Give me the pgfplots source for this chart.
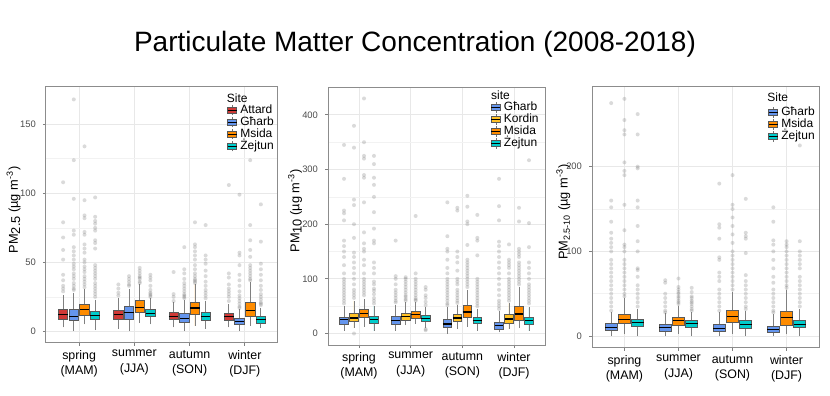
\documentclass[border=0pt]{standalone}
\usepackage{fontspec}
\setmainfont{Liberation Sans}
\usepackage{pgfplots}
\pgfplotsset{compat=1.18}
\usepgfplotslibrary{statistics}

\definecolor{cA}{HTML}{D03A36}
\definecolor{cG}{HTML}{6495ED}
\definecolor{cK}{HTML}{FFC125}
\definecolor{cM}{HTML}{FF8C00}
\definecolor{cZ}{HTML}{00CCCC}

% one ggplot-like box: colour, position, lower whisker, q1, median, q3, upper whisker, outliers
\newcommand{\bx}[8]{\addplot[gg,fill=#1,boxplot prepared={draw position=#2,lower whisker=#3,lower quartile=#4,median=#5,upper quartile=#6,upper whisker=#7}] coordinates {#8};}
\newcommand{\leg}[2]{\addlegendimage{legend image code/.code={
  \draw[black!55,line width=0.4pt] (2.25pt,-2.6pt)--(2.25pt,2.6pt);
  \draw[draw=black!65,fill=#1,line width=0.4pt] (0pt,-1.5pt) rectangle (4.5pt,1.5pt);
  \draw[black,line width=0.5pt] (0pt,0pt)--(4.5pt,0pt);}}\addlegendentry{#2}}

\tikzset{legtitle/.style={anchor=west,font=\fontsize{6}{6}\selectfont,inner sep=0pt},
 ylab/.style={at={(axis description cs:#1,0.52)},rotate=90,anchor=center,font=\fontsize{6.4}{7}\selectfont}}
\pgfplotsset{
 gg/.style={forget plot,draw=black!65,line width=0.4pt,
  mark=*,mark size=1pt,mark options={draw opacity=0,fill=black!60,fill opacity=0.24},
  boxplot={draw direction=y,whisker extend=0,
   every median/.style={draw=black,line width=0.6pt},
   every whisker/.style={draw=black!50,line width=0.45pt}}},
 ggax/.style={scale only axis,anchor=south west,xmin=0.4,xmax=4.6,
  xtick={1,2,3,4},
  xticklabels={spring\\(MAM),summer\\(JJA),autumn\\(SON),winter\\(DJF)},
  xticklabel style={align=center,font=\fontsize{6.2}{7.8}\selectfont,text=black,yshift=1.5pt},
  yticklabel style={font=\fontsize{4.7}{5}\selectfont,text=black!70},
  /pgf/number format/assume math mode=true,
  axis line style={black!45,line width=0.5pt},
  tick style={black!50,line width=0.4pt},tick align=outside,
  major tick length=1.5pt,minor tick length=0pt,
  xtick pos=left,ytick pos=left,
  grid=both,major grid style={black!9,line width=0.45pt},
  minor grid style={black!5,line width=0.3pt},minor y tick num=1,
  legend cell align=left,
  legend style={anchor=north west,draw=none,fill=none,inner sep=0pt,
   font=\fontsize{6}{6}\selectfont,
   nodes={inner sep=0.3pt,text height=4.3pt,text depth=1.1pt},
   /tikz/every odd column/.append style={column sep=1.2pt}}}
}

\begin{document}
\begin{tikzpicture}
\node[anchor=base,font=\fontsize{14}{14}\selectfont] at (207.5pt,172pt) {Particulate Matter Concentration (2008-2018)};

% PM2.5
\begin{axis}[ggax,at={(23pt,26.5pt)},width=116pt,height=128pt,
 ymin=-8.4,ymax=177,ytick={0,50,100,150},boxplot/box extend=0.17,
 every axis y label/.style={ylab=-0.14},
 ylabel={PM\raisebox{-0.35ex}{2.5} (µg m\textsuperscript{-3})},
 legend style={at={(rel axis cs:0.78,0.934)}}]
\bx{cA}{0.71}{3}{8.4}{12}{16.1}{26}{(0,108)(0,79)(0,68)(0,59)(0,52)(0,41)(0,37)(0,33)(0,31)(0,29)}
\bx{cG}{0.903}{0.5}{7.7}{11}{16.1}{28}{(0,168)(0,124)(0,96)(0,73)(0,70)(0,61)(0,58)(0,55)(0,52)(0,49)(0,47)(0,45)(0,42)(0,40)(0,38)(0,35)(0,33)(0,31)(0,30)}
\bx{cM}{1.097}{5}{11.8}{15.9}{19.7}{31}{(0,134)(0,95)(0,84)(0,82)(0,72)(0,70)(0,63)(0,60)(0,57)(0,52)(0,50)(0,47)(0,45)(0,43)(0,40)(0,38)(0,36)(0,34)(0,32)}
\bx{cZ}{1.29}{1}{8.4}{11.3}{14.4}{23}{(0,97)(0,83)(0,80)(0,78)(0,75)(0,73)(0,66)(0,64)(0,60)(0,48)(0,46)(0,44)(0,42)(0,40)(0,38)(0,35)(0,33)(0,31)(0,29)(0,27)(0,25)}
\bx{cA}{1.71}{2}{8.9}{12}{15.4}{24}{(0,34)(0,31)(0,28)(0,26)}
\bx{cG}{1.903}{0.5}{8.9}{13.7}{17.8}{31}{(0,40)(0,38)(0,36)(0,34)(0,33)}
\bx{cM}{2.097}{6}{13.7}{17.5}{22.1}{34}{(0,46)(0,44)(0,42)(0,40)(0,39)(0,38)(0,36)(0,35)}
\bx{cZ}{2.29}{5}{10.6}{13.2}{16.1}{24}{(0,41)(0,39)(0,37)(0,33)(0,30)(0,28)(0,27)(0,26)(0,25)}
\bx{cA}{2.71}{3}{8.4}{11}{13.7}{21}{(0,43)(0,27)(0,25)(0,22)}
\bx{cG}{2.903}{0.5}{6.5}{9.6}{13.2}{23}{(0,61)(0,45)(0,42)(0,38)(0,35)(0,33)(0,31)(0,29)(0,27)(0,26)(0,25)(0,24)}
\bx{cM}{3.097}{4}{12.5}{17}{21}{34}{(0,79)(0,63)(0,61)(0,58)(0,55)(0,52)(0,48)(0,45)(0,42)(0,40)(0,38)(0,37)(0,36)(0,35)}
\bx{cZ}{3.29}{2}{7.7}{10.8}{13.7}{22}{(0,77)(0,55)(0,52)(0,49)(0,44)(0,40)(0,36)(0,33)(0,30)(0,28)(0,26)(0,24)}
\bx{cA}{3.71}{3}{8.2}{10.6}{13}{20}{(0,106)(0,42)(0,39)(0,34)(0,31)(0,29)(0,27)(0,25)(0,22)}
\bx{cG}{3.903}{0.5}{4.8}{7}{9.4}{16}{(0,99)(0,57)(0,55)(0,48)(0,41)(0,37)(0,33)(0,29)(0,26)(0,24)(0,22)(0,20)(0,18)(0,17)}
\bx{cM}{4.097}{4}{10.8}{15.4}{21}{36}{(0,124)(0,77)(0,66)(0,59)(0,54)(0,48)(0,46)(0,44)(0,42)(0,40)(0,38)(0,37)}
\bx{cZ}{4.29}{2.5}{6}{8.4}{10.6}{17}{(0,92)(0,65)(0,49)(0,45)(0,41)(0,37)(0,33)(0,30)(0,27)(0,25)(0,23)(0,21)(0,20)(0,19)}
\leg{cA}{Attard}\leg{cG}{Għarb}\leg{cM}{Msida}\leg{cZ}{Żejtun}
\node[legtitle] at (rel axis cs:0.778,0.957) {Site};
\end{axis}

% PM10
\begin{axis}[ggax,at={(164pt,25.5pt)},width=108.5pt,height=129pt,
 ymin=-21,ymax=451,ytick={0,100,200,300,400},boxplot/box extend=0.17,
 every axis y label/.style={ylab=-0.152},
 ylabel={PM\raisebox{-0.35ex}{10} (µg m\textsuperscript{-3})},
 legend style={at={(rel axis cs:0.749,0.946)}}]
\bx{cG}{0.71}{5}{16.4}{25.5}{30.4}{50}{(0,345)(0,283)(0,225)(0,220)(0,207)(0,170)(0,160)(0,150)(0,140)(0,125)(0,110)(0,100)(0,95)(0,90)(0,85)(0,80)(0,75)(0,70)(0,65)(0,60)(0,55)}
\bx{cK}{0.903}{10}{22.5}{28.5}{37.6}{60}{(0,380)(0,340)(0,245)(0,235)(0,200)(0,175)(0,148)(0,140)(0,130)(0,120)(0,110)(0,100)(0,90)(0,80)(0,75)(0,70)(0,65)(0,0)}
\bx{cM}{1.097}{12}{30.4}{36}{43.7}{63}{(0,430)(0,350)(0,325)(0,320)(0,290)(0,285)(0,240)(0,185)(0,165)(0,155)(0,150)(0,135)(0,125)(0,110)(0,100)(0,95)(0,90)(0,85)(0,80)(0,75)(0,70)}
\bx{cZ}{1.29}{5}{19.4}{25.5}{31.6}{50}{(0,325)(0,310)(0,285)(0,272)(0,250)(0,222)(0,192)(0,170)(0,165)(0,130)(0,120)(0,110)(0,95)(0,90)(0,82)(0,78)(0,72)(0,65)(0,60)(0,55)}
\bx{cG}{1.71}{5}{16.4}{24}{31.6}{53}{(0,170)(0,105)(0,100)(0,90)(0,80)(0,75)(0,70)(0,65)(0,60)(0,57)}
\bx{cK}{1.903}{15}{24.3}{31.6}{37.6}{58}{(0,103)(0,100)(0,95)(0,90)(0,85)(0,80)(0,75)(0,70)(0,67)(0,63)(0,60)}
\bx{cM}{2.097}{18}{28.5}{34.6}{40.7}{58}{(0,215)(0,110)(0,100)(0,95)(0,90)(0,85)(0,80)(0,75)(0,70)(0,65)(0,62)(0,60)}
\bx{cZ}{2.29}{10}{22.5}{28}{32.8}{48}{(0,85)(0,80)(0,70)(0,65)(0,58)(0,52)(0,8)(0,6)}
\bx{cG}{2.71}{0}{10.3}{17.6}{25.5}{48}{(0,240)(0,178)(0,155)(0,150)(0,135)(0,120)(0,110)(0,100)(0,95)(0,90)(0,85)(0,80)(0,75)(0,70)(0,65)(0,60)(0,55)(0,52)}
\bx{cK}{2.903}{8}{22.5}{28.5}{34.6}{53}{(0,230)(0,225)(0,150)(0,140)(0,130)(0,115)(0,100)(0,95)(0,90)(0,80)(0,75)(0,70)(0,65)(0,60)(0,56)}
\bx{cM}{3.097}{12}{30.4}{39.5}{51}{80}{(0,252)(0,232)(0,205)(0,200)(0,162)(0,135)(0,130)(0,125)(0,120)(0,115)(0,110)(0,105)(0,100)(0,95)(0,90)(0,85)}
\bx{cZ}{3.29}{5}{18.2}{24.3}{30.4}{45}{(0,217)(0,175)(0,170)(0,143)(0,100)(0,95)(0,90)(0,85)(0,80)(0,75)(0,70)(0,65)(0,60)(0,55)(0,50)}
\bx{cG}{3.71}{2}{7.3}{14.6}{21.2}{42}{(0,283)(0,233)(0,207)(0,168)(0,160)(0,150)(0,140)(0,130)(0,120)(0,110)(0,100)(0,90)(0,80)(0,70)(0,60)(0,55)(0,50)(0,45)}
\bx{cK}{3.903}{8}{19.4}{26.7}{34.6}{55}{(0,163)(0,135)(0,130)(0,125)(0,120)(0,110)(0,100)(0,95)(0,90)(0,85)(0,80)(0,75)(0,70)(0,65)(0,60)}
\bx{cM}{4.097}{10}{24.3}{35.8}{49.8}{85}{(0,230)(0,205)(0,155)(0,150)(0,145)(0,140)(0,130)(0,125)(0,120)(0,115)(0,110)(0,105)(0,100)(0,95)(0,90)}
\bx{cZ}{4.29}{5}{17.6}{24.3}{29.7}{48}{(0,317)(0,202)(0,158)(0,130)(0,120)(0,110)(0,100)(0,90)(0,85)(0,80)(0,75)(0,70)(0,65)(0,60)(0,55)}
\leg{cG}{Għarb}\leg{cK}{Kordin}\leg{cM}{Msida}\leg{cZ}{Żejtun}
\node[legtitle] at (rel axis cs:0.75,0.968) {site};
\end{axis}

% PM2.5-10
\begin{axis}[ggax,at={(296pt,24pt)},width=113.5pt,height=130.5pt,
 ymin=-14,ymax=294,ytick={0,100,200},boxplot/box extend=0.22,
 every axis y label/.style={ylab=-0.126},
 ylabel={PM\textsubscript{2.5-10} (µg m\textsuperscript{-3})},
 legend style={at={(rel axis cs:0.775,0.927)}}]
\bx{cG}{0.755}{0}{6.3}{10.2}{15}{28}{(0,275)(0,160)(0,152)(0,135)(0,122)(0,115)(0,110)(0,105)(0,100)(0,90)(0,85)(0,80)(0,75)(0,70)(0,65)(0,60)(0,55)(0,50)(0,45)(0,40)(0,35)(0,30)}
\bx{cM}{1}{2}{15}{19.7}{26}{45}{(0,280)(0,255)(0,243)(0,238)(0,205)(0,195)(0,190)(0,155)(0,125)(0,108)(0,105)(0,100)(0,90)(0,85)(0,80)(0,75)(0,70)(0,65)(0,60)(0,55)(0,50)(0,47)}
\bx{cZ}{1.245}{0}{11}{15.7}{19.7}{32}{(0,262)(0,238)(0,200)(0,198)(0,160)(0,152)(0,130)(0,112)(0,100)(0,80)(0,78)(0,70)(0,60)(0,55)(0,50)(0,45)(0,40)(0,35)}
\bx{cG}{1.755}{0}{5}{9.8}{13.8}{27}{(0,66)(0,63)(0,50)(0,45)(0,40)(0,35)(0,30)(0,28)}
\bx{cM}{2}{3}{12.2}{18}{22}{36}{(0,68)(0,58)(0,55)(0,52)(0,50)(0,47)(0,45)(0,42)(0,40)(0,38)}
\bx{cZ}{2.245}{0}{10.2}{15}{18}{29}{(0,57)(0,52)(0,47)(0,45)(0,42)(0,40)(0,38)(0,35)(0,32)(0,30)}
\bx{cG}{2.755}{0}{5}{9}{14.2}{28}{(0,180)(0,132)(0,128)(0,115)(0,93)(0,90)(0,75)(0,70)(0,65)(0,55)(0,50)(0,45)(0,40)(0,35)(0,30)}
\bx{cM}{3}{3}{16.1}{22.8}{30.7}{52}{(0,190)(0,155)(0,150)(0,140)(0,130)(0,120)(0,110)(0,100)(0,95)(0,90)(0,85)(0,80)(0,75)(0,70)(0,65)(0,60)(0,55)}
\bx{cZ}{3.245}{0}{9}{14.2}{18}{30}{(0,162)(0,122)(0,118)(0,115)(0,98)(0,72)(0,65)(0,60)(0,55)(0,50)(0,45)(0,40)(0,35)(0,32)}
\bx{cG}{3.755}{0}{4}{7.9}{11.8}{26}{(0,152)(0,135)(0,113)(0,108)(0,100)(0,90)(0,80)(0,70)(0,63)(0,55)(0,50)(0,45)(0,40)(0,35)(0,30)(0,28)}
\bx{cM}{4}{2}{13}{21.7}{28.7}{55}{(0,112)(0,108)(0,105)(0,100)(0,95)(0,90)(0,85)(0,80)(0,75)(0,70)(0,65)(0,60)(0,57)}
\bx{cZ}{4.245}{0}{9.8}{14.2}{18.9}{32}{(0,225)(0,112)(0,100)(0,95)(0,90)(0,85)(0,80)(0,70)(0,65)(0,60)(0,55)(0,50)(0,45)(0,40)(0,35)}
\leg{cG}{Għarb}\leg{cM}{Msida}\leg{cZ}{Żejtun}
\node[legtitle] at (rel axis cs:0.771,0.962) {Site};
\end{axis}

\pgfresetboundingbox
\useasboundingbox (0,0) rectangle (415pt,198pt);
\end{tikzpicture}
\end{document}
